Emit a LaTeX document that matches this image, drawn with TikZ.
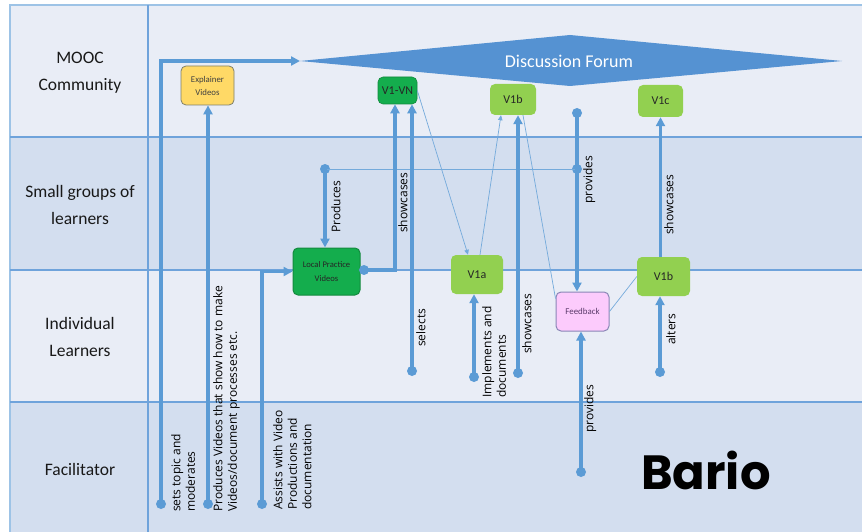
\documentclass[tikz,border=0pt]{standalone}
\usepackage{fontspec}
\setmainfont{Carlito}
\newfontfamily\labelfont{Open Sans}
\newfontfamily\brandfont{Poppins}
\usetikzlibrary{arrows.meta}

\definecolor{rowlight}{HTML}{E9EDF6}
\definecolor{rowdark}{HTML}{D3DEEF}
\definecolor{gridblue}{HTML}{6FA3DB}
\definecolor{edgeblue}{HTML}{9DC3E6}
\definecolor{flowblue}{HTML}{5B9BD5}
\definecolor{forumblue}{HTML}{5592D2}
\definecolor{darkgreen}{HTML}{14AD4D}
\definecolor{darkgreenedge}{HTML}{138A3E}
\definecolor{lightgreen}{HTML}{92D050}
\definecolor{explyellow}{HTML}{FFD966}
\definecolor{expledge}{HTML}{7F7F6A}
\definecolor{fbpink}{HTML}{FCCBFC}
\definecolor{fbedge}{HTML}{8A86B6}
\definecolor{fbtext}{HTML}{5A3A6A}

\begin{document}
\begin{tikzpicture}[x=1pt,y=-1pt,
  flow/.style={draw=flowblue, line width=3.2pt},
  faint/.style={draw=flowblue!85, line width=0.7pt},
  tip/.style={-{Triangle[length=9pt,width=9pt]}},
  smalltip/.style={-{Triangle[length=5pt,width=4.5pt]}},
  dot/.style={circle, fill=flowblue, inner sep=0pt, minimum size=10pt},
  box/.style={rounded corners=5pt, inner sep=1pt, align=center, text=black!85},
  hdr/.style={align=center, font=\fontsize{17.5}{27}\selectfont, text=black!90},
  lbl/.style={rotate=90, anchor=north west, inner sep=0pt, align=left,
    font=\labelfont\fontsize{12}{14.5}\selectfont, text=black},
]
\useasboundingbox (0,0) rectangle (862,532);
\fill[white] (0,0) rectangle (862,532);

% swim lanes
\fill[rowlight] (10,5) rectangle (862,137);
\fill[rowdark]  (10,137) rectangle (862,270);
\fill[rowlight] (10,270) rectangle (862,402);
\fill[rowdark]  (10,402) rectangle (862,532);
\draw[edgeblue, line width=1.5pt] (10,532) -- (10,5) -- (862,5);
\draw[gridblue, line width=1.5pt] (148,5) -- (148,532);
\foreach \yy in {137,270,402}
  \draw[gridblue, line width=1.5pt] (10,\yy) -- (862,\yy);

% lane titles
\node[hdr] (hmooc)  at (80,73)  {MOOC\\Community};
\node[hdr] (hsmall) at (80,205) {Small groups of\\learners};
\node[hdr] (hind)   at (80,337) {Individual\\Learners};
\node[hdr] (hfac)   at (80,469) {Facilitator};

% discussion forum
\coordinate (forumW) at (300,61);
\coordinate (forumN) at (570,35);
\coordinate (forumE) at (842,61);
\coordinate (forumS) at (570,86);
\fill[forumblue] (forumW) -- (forumN) -- (forumE) -- (forumS) -- cycle;
\node[anchor=base, text=white, font=\fontsize{18}{20}\selectfont, inner sep=0pt] (forum) at (569,68) {Discussion Forum};

% boxes
\node[box, fill=explyellow, draw=expledge, line width=0.8pt, minimum width=53pt, minimum height=39pt,
  font=\fontsize{8.8}{13}\selectfont, text=black!75] (expl) at (207.5,85.5) {Explainer\\Videos};
\node[box, fill=darkgreen, draw=darkgreenedge, line width=0.6pt, minimum width=39pt, minimum height=27pt,
  font=\fontsize{12}{14}\selectfont] (v1vn) at (397.5,90.5) {V1-VN};
\node[box, fill=darkgreen, draw=darkgreenedge, line width=1pt, minimum width=67pt, minimum height=47pt,
  font=\fontsize{8.6}{14}\selectfont] (lpv) at (326.5,271.5) {Local Practice\\Videos};
\node[box, fill=lightgreen, minimum width=52pt, minimum height=39pt,
  font=\fontsize{12}{14}\selectfont] (v1a) at (477,274.5) {V1a};
\node[box, fill=lightgreen, minimum width=46pt, minimum height=31pt,
  font=\fontsize{12}{14}\selectfont] (v1b) at (513,99.5) {V1b};
\node[box, fill=fbpink, draw=fbedge, line width=1pt, minimum width=53pt, minimum height=39pt,
  font=\fontsize{8.9}{12}\selectfont, text=fbtext] (fb) at (582.5,311.5) {Feedback};
\node[box, fill=lightgreen, minimum width=53pt, minimum height=39pt,
  font=\fontsize{12}{14}\selectfont] (v1bl) at (663.5,276.5) {V1b};
\node[box, fill=lightgreen, minimum width=45pt, minimum height=32pt,
  font=\fontsize{12}{14}\selectfont] (v1c) at (660.5,101) {V1c};

% start dots
\node[dot] (dtopic) at (161,504) {};
\node[dot] (dexpl)  at (208,504) {};
\node[dot] (dassist) at (262,504) {};
\node[dot] (dlpv)   at (364,270) {};
\node[dot] (dsel)   at (412,371) {};
\node[dot] (dprod)  at (325,169) {};
\node[dot] (dimpl)  at (474,377) {};
\node[dot] (dshow)  at (518,373) {};
\node[dot] (dprovA) at (577,113) {};
\node[dot] (dprovB) at (577,169) {};
\node[dot] (dprovC) at (581,472) {};
\node[dot] (dalt)   at (660,372) {};

% thin links
\draw[faint] (dprod.center) -- (dprovB.center);
\draw[faint, smalltip] (v1vn.east) -- ([xshift=-9pt]v1a.north);
\draw[faint, smalltip] ([xshift=3pt]v1a.north) -- ([xshift=-12pt]v1b.south);
\draw[faint] ([xshift=10pt]v1b.south) -- ([yshift=13pt]fb.west);
\draw[faint] (fb.east) -- (v1bl.west);

% main flows
\draw[flow, tip] (dtopic.center) |- (forumW);
\draw[flow, tip] (dexpl.center) -- (dexpl.center |- expl.south);
\draw[flow, tip] (dassist.center) |- (lpv.west);
\draw[flow, tip] (dlpv.center) -| ([xshift=-2.5pt]v1vn.south);
\draw[flow, tip] (dsel.center) -- (dsel.center |- v1vn.south);
\draw[flow, tip] (dprod.center) -- (dprod.center |- lpv.north);
\draw[flow, tip] (dimpl.center) -- (dimpl.center |- v1a.south);
\draw[flow, tip] (dshow.center) -- (dshow.center |- v1b.south);
\draw[flow, tip] (dprovA.center) -- (dprovA.center |- fb.north);
\draw[flow, tip] (dprovC.center) -- (dprovC.center |- fb.south);
\draw[flow, tip] (v1c.south |- v1bl.north) -- (v1c.south);
\draw[flow, tip] (dalt.center) -- (dalt.center |- v1bl.south);

% flow labels
\node[lbl] (ltopic)  at (171,512) {sets topic and\\moderates};
\node[lbl] (lexpl)   at (213,512) {Produces Videos that show how to make\\Videos/document processes etc.};
\node[lbl] (lassist) at (273,510) {Assists with Video\\Productions and\\documentation};
\node[lbl] (lprod)   at (331,233) {Produces};
\node[lbl] (lshowA)  at (398,233) {showcases};
\node[lbl] (lsel)    at (416,347) {selects};
\node[lbl] (limpl)   at (482,398) {Implements and\\documents};
\node[lbl] (lshowB)  at (522,354) {showcases};
\node[lbl] (lprovA)  at (583,204) {provides};
\node[lbl] (lprovB)  at (584,433) {provides};
\node[lbl] (lshowC)  at (664,235) {showcases};
\node[lbl] (lalt)    at (666,345) {alters};

% site name
\node[anchor=base west, inner sep=0pt, font=\brandfont\bfseries\fontsize{48}{48}\selectfont] (brand) at (641,489) {Bario};
\end{tikzpicture}
\end{document}
